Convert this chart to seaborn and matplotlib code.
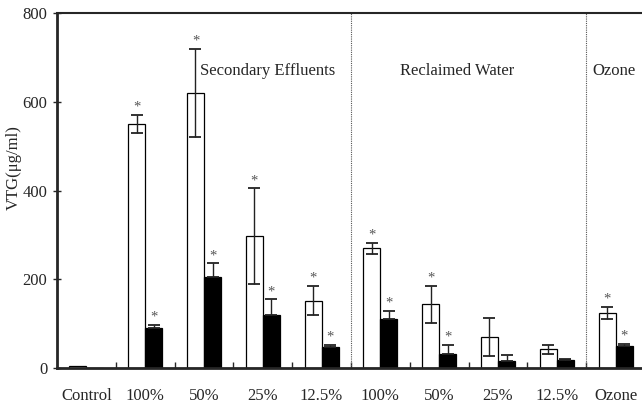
import matplotlib
matplotlib.use("Agg")
import matplotlib.pyplot as plt
import seaborn as sns
import pandas as pd
import numpy as np

keys = ["C", "SE100", "SE50", "SE25", "SE12", "RW100", "RW50", "RW25", "RW12", "OZ"]
tick_labels = ["Control", "100%", "50%", "25%", "12.5%", "100%", "50%", "25%", "12.5%", "Ozone"]
white_vals = [5, 550, 620, 297, 152, 270, 144, 70, 43, 125]
white_err = [0, 20, 100, 108, 33, 13, 42, 43, 10, 14]
black_vals = [0.5, 90, 206, 120, 47, 112, 32, 17, 19, 50]
black_err = [0, 8, 30, 35, 6, 17, 20, 12, 2, 4]
white_star = [False, True, True, True, True, True, True, False, False, True]
black_star = [False, True, True, True, True, True, True, False, False, True]
group_labels = ["Secondary Effluents", "Reclaimed Water", "Ozone"]
y_ticks = [0, 200, 400, 600, 800]

sns.set_style("ticks")
plt.rcParams["font.family"] = ["Liberation Serif", "DejaVu Serif"]

df = pd.DataFrame({
    "key": keys * 2,
    "value": white_vals + black_vals,
    "series": ["white"] * len(keys) + ["black"] * len(keys),
})

fig = plt.figure(figsize=(6.42, 4.05), dpi=100)
ax = fig.add_axes([57 / 642, 36.7 / 405, 588 / 642, 355.3 / 405])

sns.barplot(data=df, x="key", y="value", hue="series", order=keys,
            hue_order=["white", "black"], palette={"white": "white", "black": "black"},
            edgecolor="black", linewidth=0.9, width=0.58, errorbar=None,
            legend=False, ax=ax)

n = len(keys)
patches = ax.patches
white_patches = patches[:n]
black_patches = patches[n:2 * n]

for i in range(n):
    wp = white_patches[i]
    bp = black_patches[i]
    wx = wp.get_x() + wp.get_width() / 2
    bx = bp.get_x() + bp.get_width() / 2
    if white_err[i] > 0:
        ax.errorbar(wx, white_vals[i], yerr=white_err[i], fmt="none",
                    ecolor="#222222", elinewidth=1.0, capsize=4, capthick=1.3)
    if black_err[i] > 0:
        ax.errorbar(bx, black_vals[i], yerr=[[0], [black_err[i]]], fmt="none",
                    ecolor="#222222", elinewidth=1.0, capsize=4, capthick=1.3)
    if white_star[i]:
        ax.text(wx, white_vals[i] + white_err[i] + 3, "*", ha="center", va="bottom",
                fontsize=10.5, color="#555555")
    if black_star[i]:
        ax.text(bx, black_vals[i] + black_err[i] + 3, "*", ha="center", va="bottom",
                fontsize=10.5, color="#555555")

ax.set_xlim(-0.5, n - 0.5)
ax.set_ylim(0, 800)
ax.set_yticks(y_ticks)
ax.set_yticklabels([str(t) for t in y_ticks], fontsize=12)
ax.tick_params(axis="y", direction="inout", length=6, width=1, pad=4)

# x: labels at centers, tick marks at category boundaries
ax.set_xticks(np.arange(n))
ax.set_xticklabels(tick_labels, fontsize=12)
ax.tick_params(axis="x", which="major", length=0, pad=14)
ax.set_xticks(np.arange(0.5, n - 0.5, 1.0), minor=True)
ax.tick_params(axis="x", which="minor", direction="in", length=4, width=1)

ax.set_xlabel("")
ax.set_ylabel("VTG(μg/ml)", fontsize=12)
ax.yaxis.set_label_coords(-0.059, 0.565)

for side in ["left", "bottom"]:
    ax.spines[side].set_linewidth(2.0)
ax.spines["top"].set_linewidth(1.5)
ax.spines["right"].set_linewidth(1.5)

# dotted separators
for xsep in [4.5, 8.5]:
    ax.axvline(xsep, color="#555555", linestyle=(0, (1, 1)), linewidth=0.8)

ax.text(1.94, 670, group_labels[0], ha="left", va="center", fontsize=12)
ax.text(6.31, 670, group_labels[1], ha="center", va="center", fontsize=12)
ax.text(8.6, 670, group_labels[2], ha="left", va="center", fontsize=12)

fig.savefig("out.png", dpi=100)
